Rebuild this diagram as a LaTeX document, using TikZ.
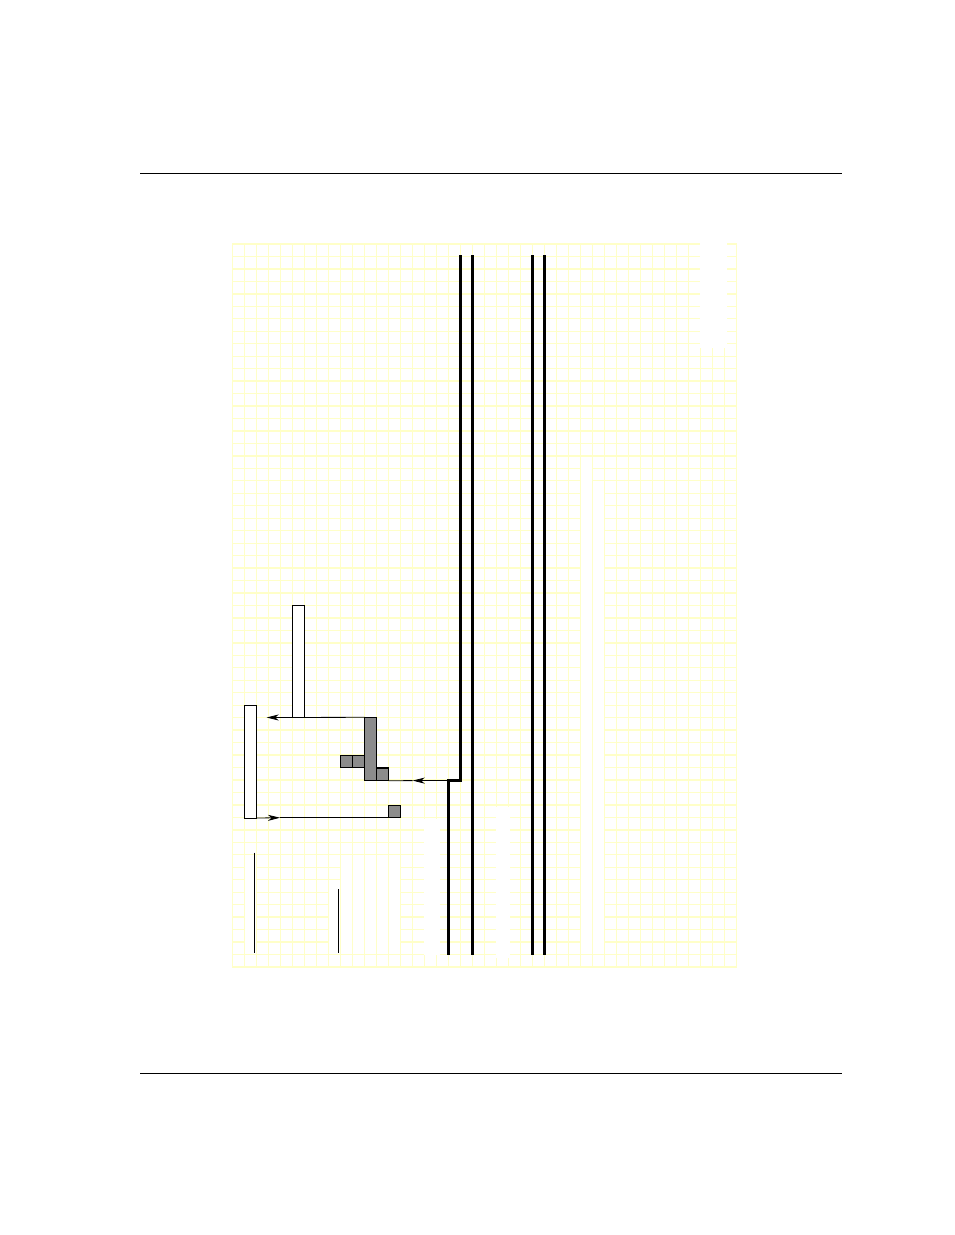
\documentclass[tikz,border=0pt]{standalone}
\usetikzlibrary{arrows.meta}
\definecolor{gridyellow}{RGB}{255,255,200}
\definecolor{shadegray}{RGB}{140,140,140}
\tikzset{
  gridline/.style={draw=gridyellow, line width=1.3pt},
  wipe/.style={fill=white, draw=none},
  rail/.style={line width=2.7pt, line cap=butt, line join=miter},
  openbar/.style={draw, fill=white, line width=1pt, inner sep=0pt, outer sep=0pt, anchor=north west},
  shadebox/.style={draw, fill=shadegray, line width=1.4pt, inner sep=0pt, outer sep=0pt, anchor=north west},
  thinarrow/.style={line width=0.8pt, -{Stealth[length=12pt,width=6pt,inset=3.5pt]}},
  thinline/.style={line width=0.8pt},
  thickline/.style={line width=1.4pt},
  rule/.style={line width=0.9pt},
  stem/.style={line width=0.9pt},
}
\begin{document}
\begin{tikzpicture}[x=1pt,y=-1pt]
\useasboundingbox (0,0) rectangle (954,1235);
\fill[white] (0,0) rectangle (954,1235);
% page rules
\coordinate (h1l) at (140,173.3); \coordinate (h1r) at (841.7,173.3);
\coordinate (h2l) at (140,1073.3); \coordinate (h2r) at (841.7,1073.3);
\draw[rule] (h1l) -- (h1r);
\draw[rule] (h2l) -- (h2r);
% grid: horizontal lines
\foreach \j in {0,...,58} \draw[gridline] (232.05,244+12.465*\j) -- (737.35,244+12.465*\j);
% patches hiding horizontal lines only
\fill[wipe] (245.4,860) rectangle (256.0,950);
\fill[wipe] (329.4,886) rectangle (340.0,950);
\fill[wipe] (341.4,860) rectangle (364.0,950);
\fill[wipe] (365.4,860) rectangle (400.0,950);
% grid: vertical lines
\foreach \i in {0,...,42} \draw[gridline] (232.7+12*\i,243.35) -- (232.7+12*\i,967.4);
% patches hiding both
\fill[wipe] (700.4,242) rectangle (727.3,348.3);
\fill[wipe] (581.4,463) rectangle (592.0,951);
\fill[wipe] (593.4,487) rectangle (604.0,951);
\fill[wipe] (496,807) rectangle (510,958);
\fill[wipe] (424.2,819) rectangle (439.5,955);
% rails
\coordinate (Atop) at (460.7,255); \coordinate (Abend) at (460.7,780.6);
\coordinate (jog) at (448.7,780.6); \coordinate (Abot) at (448.7,954.7);
\coordinate (Btop) at (472.5,255); \coordinate (Bbot) at (472.5,954.7);
\coordinate (Ctop) at (532.5,255); \coordinate (Cbot) at (532.5,954.7);
\coordinate (Dtop) at (544.5,255); \coordinate (Dbot) at (544.5,954.7);
\draw[rail] (Atop) -- (Abend) -- (jog) -- (Abot);
\draw[rail] (Btop) -- (Bbot);
\draw[rail] (Ctop) -- (Cbot);
\draw[rail] (Dtop) -- (Dbot);
% open bars
\node[openbar, minimum width=12pt, minimum height=112.4pt] (r1) at (292.5,605.3) {};
\node[openbar, minimum width=12pt, minimum height=112.3pt] (r2) at (244.5,705.7) {};
% shaded blocks
\node[shadebox, minimum width=12pt, minimum height=63.4pt] (s1) at (364.7,717.3) {};
\node[shadebox, minimum width=12pt, minimum height=12.9pt] (s2) at (376.7,767.8) {};
\node[shadebox, minimum width=12pt, minimum height=12.4pt] (s3) at (340.7,755.3) {};
\node[shadebox, minimum width=12pt, minimum height=12.4pt] (s4) at (352.7,755.3) {};
\node[shadebox, minimum width=12pt, minimum height=12.4pt] (s5) at (388.7,805.3) {};
% connectors
\coordinate (a1tip) at (266.7,717.5);
\draw[thinarrow] (s1.north west) -- (a1tip);
\coordinate (a2tip) at (412.7,780.6);
\draw[thinarrow] (jog) -- (a2tip);
\draw[thinline] (a2tip) -- (s2.south east);
\coordinate (a3tip) at (280,817.7);
\draw[thinarrow] (r2.south east) -- (a3tip);
\draw[thickline] (a3tip) -- (s5.south west);
% stems
\coordinate (t1a) at (254.3,852.7); \coordinate (t1b) at (254.3,952.7);
\coordinate (t2a) at (338.3,889); \coordinate (t2b) at (338.3,952.7);
\draw[stem] (t1a) -- (t1b);
\draw[stem] (t2a) -- (t2b);
\end{tikzpicture}
\end{document}
